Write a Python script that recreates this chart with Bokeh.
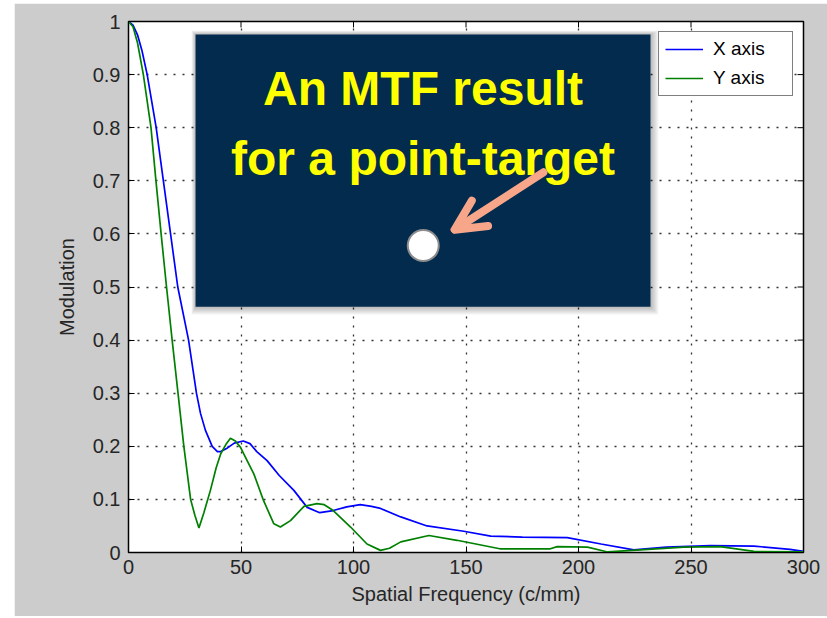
from bokeh.plotting import figure
from bokeh.models import (FixedTicker, Legend, LegendItem, BoxAnnotation,
                          Label, Arrow, OpenHead, Range1d, Spacer)
from bokeh.layouts import row, column
from bokeh.embed import file_html
from bokeh.resources import INLINE

# ---- data ----
freq_x = [0, 2, 4, 6, 8.3, 12.3, 15.5, 18.7, 21.9, 26.7, 30.2, 32, 34.2, 37.2, 39.5, 41,
          44, 47, 51, 54, 57, 61.6, 67, 73.5, 79.4, 85, 91, 97, 103, 108, 112, 121,
          132.7, 149, 161, 175, 195, 210, 224.6, 239, 258.7, 278, 294, 300]
mod_x = [1.0, 0.993, 0.975, 0.945, 0.9, 0.8, 0.7, 0.6, 0.5, 0.4, 0.3, 0.262, 0.23, 0.2, 0.19, 0.19,
         0.197, 0.206, 0.21, 0.205, 0.19, 0.173, 0.145, 0.117, 0.085, 0.075, 0.079, 0.086, 0.09, 0.087, 0.083, 0.067,
         0.05, 0.04, 0.031, 0.029, 0.028, 0.016, 0.005, 0.01, 0.013, 0.012, 0.006, 0.002]

freq_y = [0, 2, 4, 6.6, 10, 12.2, 14.5, 16.9, 19.4, 22, 24.6, 27.6, 29.5, 31.3, 33.5, 36.4,
          39, 41, 43.5, 45.3, 47.5, 49.8, 52.5, 55.7, 60, 64.6, 67.5, 72, 78, 83.8, 87, 91,
          98.7, 106, 112, 116, 121, 133.5, 146, 165, 187.5, 190.5, 204, 213, 227.5, 246.7,
          263, 278, 300]
mod_y = [1.0, 0.99, 0.96, 0.9, 0.8, 0.7, 0.6, 0.5, 0.4, 0.3, 0.2, 0.1, 0.07, 0.046, 0.075, 0.117,
         0.16, 0.186, 0.205, 0.215, 0.21, 0.198, 0.175, 0.148, 0.098, 0.054, 0.048, 0.06, 0.087, 0.092, 0.09, 0.079,
         0.048, 0.016, 0.004, 0.008, 0.02, 0.032, 0.023, 0.007, 0.007, 0.011, 0.010, 0.001, 0.005, 0.01,
         0.011, 0.002, 0.001]

series_names = ["X axis", "Y axis"]
x_ticks = [0, 50, 100, 150, 200, 250, 300]
y_ticks = [0, 0.1, 0.2, 0.3, 0.4, 0.5, 0.6, 0.7, 0.8, 0.9, 1]
y_tick_labels = ["0", "0.1", "0.2", "0.3", "0.4", "0.5", "0.6", "0.7", "0.8", "0.9", "1"]
x_label = "Spatial Frequency (c/mm)"
y_label = "Modulation"
callout_lines = ["An MTF result", "for a point-target"]

FONT = "Liberation Sans"
TXT = "#262626"

p = figure(width=813, height=613, x_range=Range1d(0, 300), y_range=Range1d(0, 1),
           output_backend="svg", toolbar_location=None,
           min_border_left=114, min_border_right=24, min_border_top=18, min_border_bottom=64,
           background_fill_color="white", border_fill_color="#cccccc",
           outline_line_color="black", outline_line_width=1.5)

p.xaxis.ticker = FixedTicker(ticks=x_ticks)
p.yaxis.ticker = FixedTicker(ticks=y_ticks)
p.yaxis.major_label_overrides = {t: s for t, s in zip(y_ticks, y_tick_labels)}
p.xaxis.axis_label = x_label
p.yaxis.axis_label = y_label

for ax in [p.xaxis[0], p.yaxis[0]]:
    ax.major_tick_in = 6
    ax.major_tick_out = 0
    ax.minor_tick_line_color = None
    ax.axis_line_color = "black"
    ax.major_tick_line_color = "black"
    ax.major_label_text_font = FONT
    ax.major_label_text_font_size = "20px"
    ax.major_label_text_color = TXT
    ax.axis_label_text_font = FONT
    ax.axis_label_text_font_size = "20px"
    ax.axis_label_text_font_style = "normal"
    ax.axis_label_text_color = TXT
p.xaxis.major_label_standoff = 7
p.yaxis.major_label_standoff = 8
p.xaxis.axis_label_standoff = 6
p.yaxis.axis_label_standoff = 12

# mirrored inward ticks on the top and right edges of the box
TICK_X = 6 * 300 / 675.0
TICK_Y = 6 / 531.0
p.segment(x0=x_ticks, y0=[1] * len(x_ticks), x1=x_ticks, y1=[1 - TICK_Y] * len(x_ticks),
          line_color="black", line_width=1)
p.segment(x0=[300] * len(y_ticks), y0=y_ticks, x1=[300 - TICK_X] * len(y_ticks), y1=y_ticks,
          line_color="black", line_width=1)

p.xgrid.ticker = FixedTicker(ticks=x_ticks)
p.ygrid.ticker = FixedTicker(ticks=y_ticks)
for g in [p.xgrid[0], p.ygrid[0]]:
    g.grid_line_color = "#333333"
    g.grid_line_dash = "2 7"
    g.grid_line_width = 1.3

rx = p.line(freq_x, mod_x, line_color="#0000ff", line_width=1.7)
ry = p.line(freq_y, mod_y, line_color="#008000", line_width=1.7)

legend = Legend(items=[LegendItem(label=series_names[0], renderers=[rx]),
                       LegendItem(label=series_names[1], renderers=[ry])],
                location="top_right", margin=10, padding=6, spacing=7,
                glyph_width=38, glyph_height=20, label_height=20, label_width=73,
                label_standoff=10, border_line_color="black", border_line_width=1.5,
                background_fill_color="white", background_fill_alpha=1,
                label_text_font=FONT, label_text_font_size="19px", label_text_color="black")
p.add_layout(legend)

# ---- callout panel (placement expressed in axis units) ----
PX_X = 300 / 675.0   # data units per pixel
PX_Y = 1 / 531.0
box_l, box_r, box_b, box_t = 29.8, 232.0, 0.463, 0.9755
for k in range(1, 9):
    p.add_layout(BoxAnnotation(left=box_l - 0.5 * k * PX_X, right=box_r + k * PX_X,
                               bottom=box_b - k * PX_Y, top=box_t + 0.5 * k * PX_Y,
                               fill_color="black", fill_alpha=0.035, line_color=None))
p.add_layout(BoxAnnotation(left=box_l, right=box_r, bottom=box_b, top=box_t,
                           fill_color="#022b4e", fill_alpha=1, line_color=None))

for txt, yy in zip(callout_lines, [0.874, 0.742]):
    p.add_layout(Label(x=130.9, y=yy, text=txt, text_align="center", text_baseline="alphabetic",
                       text_font=FONT, text_font_style="bold", text_font_size="48px",
                       text_color="#ffff00", level="overlay"))

p.scatter([131], [0.578], size=31, fill_color="white", line_color="#8c8c8c", line_width=2,
          level="overlay")

arrow_col = "#f7a68a"
p.add_layout(Arrow(end=OpenHead(size=30, line_color=arrow_col, line_width=8, line_cap="round",
                                line_join="round"),
                   x_start=184.4, y_start=0.716, x_end=145.0, y_end=0.608,
                   line_color=arrow_col, line_width=8, line_cap="round", level="overlay"))

layout = row(Spacer(width=14), column(Spacer(height=3), p))
open("out.html", "w").write(file_html(layout, INLINE))
